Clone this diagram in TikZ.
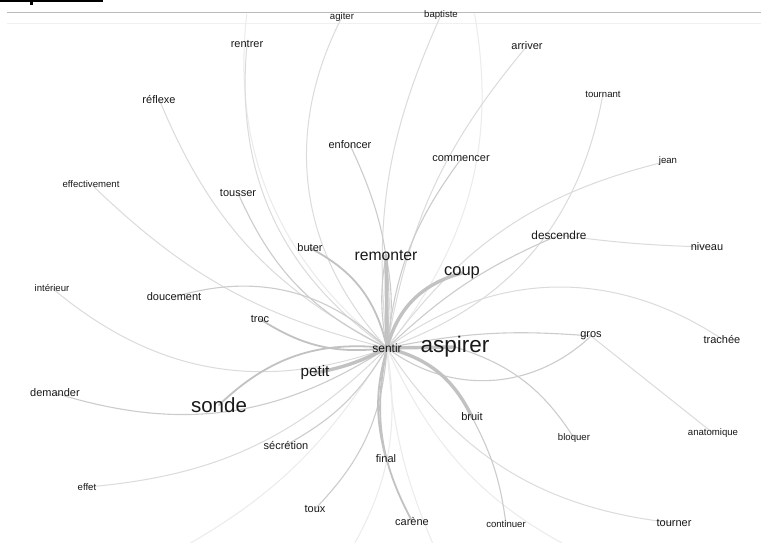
\documentclass[tikz,border=0pt]{standalone}
\usepackage{fontspec}
\setmainfont{Liberation Sans}
\usetikzlibrary{backgrounds}
\definecolor{txt}{gray}{0.1}
\definecolor{edgea}{gray}{0.76}
\definecolor{edgeb}{gray}{0.80}
\definecolor{edgec}{gray}{0.86}
\definecolor{edged}{gray}{0.92}
\tikzset{
  word/.style={inner sep=0pt, text=txt, font=\fontsize{11}{12}\selectfont},
  wsmall/.style={word, font=\fontsize{9.6}{11}\selectfont},
  wbig/.style={word, font=\fontsize{#1}{#1}\selectfont},
  ethick/.style={draw=edgea, line width=3.4pt, line cap=round},
  emed/.style={draw=edgea, line width=1.8pt, line cap=round},
  ethin/.style={draw=edgeb, line width=1.1pt, line cap=round},
  elight/.style={draw=edgec, line width=1pt, line cap=round},
  efaint/.style={draw=edged, line width=1pt, line cap=round},
}
\begin{document}
\begin{tikzpicture}[x=1pt,y=-1pt]
\useasboundingbox (0,0) rectangle (761,542);
% words
\node[word, font=\fontsize{12}{12}\selectfont] (sentir) at (387,348) {sentir};
\node[wbig=22.5] (aspirer) at (455,347) {aspirer};
\node[wbig=20.5] (sonde) at (219,405) {sonde};
\node[wbig=15.7] (remonter) at (386,255) {remonter};
\node[wbig=16.5] (coup) at (462,273) {coup};
\node[wbig=15.3] (petit) at (315,373) {petit};
\node[wsmall] (agiter) at (342,17) {agiter};
\node[wsmall] (baptiste) at (441,15) {baptiste};
\node[word] (rentrer) at (247,44) {rentrer};
\node[word] (arriver) at (527,46) {arriver};
\node[word] (reflexe) at (159,99) {réflexe};
\node[wsmall] (tournant) at (603,94) {tournant};
\node[word] (enfoncer) at (350,145) {enfoncer};
\node[word] (commencer) at (461,159) {commencer};
\node[wsmall] (jean) at (668,161) {jean};
\node[wsmall] (effectivement) at (91,184) {effectivement};
\node[word] (tousser) at (238,193) {tousser};
\node[word] (buter) at (310,248) {buter};
\node[wsmall] (interieur) at (52,288) {intérieur};
\node[word] (doucement) at (174,297) {doucement};
\node[word] (troc) at (260,319) {troc};
\node[word, font=\fontsize{11.8}{12}\selectfont] (descendre) at (559,235) {descendre};
\node[word] (niveau) at (707,247) {niveau};
\node[word] (trachee) at (722,339) {trachée};
\node[word] (gros) at (591,336) {gros};
\node[word] (demander) at (55,393) {demander};
\node[word] (secretion) at (286,445) {sécrétion};
\node[wsmall] (effet) at (87,487) {effet};
\node[word] (toux) at (315,509) {toux};
\node[word] (bruit) at (472,417) {bruit};
\node[wsmall] (bloquer) at (574,438) {bloquer};
\node[word] (final) at (386,459) {final};
\node[word] (carene) at (412,521) {carène};
\node[wsmall] (continuer) at (506,524) {continuer};
\node[wsmall] (anatomique) at (713,433) {anatomique};
\node[word] (tourner) at (674,523) {tourner};
% off-canvas ends
\coordinate (o1) at (345,560);
\coordinate (o2) at (440,560);
\coordinate (o3) at (595,560);
\coordinate (o4) at (160,560);
\coordinate (o5) at (250,-10);
\coordinate (o6) at (470,-10);
\begin{pgfonlayer}{background}
\fill[white] (0,0) rectangle (761,542);
% header remnants
\fill[black] (0,0) rectangle (103,2.2);
\fill[black] (29.5,2) rectangle (32.5,5);
\draw[gray!55, line width=1.3pt] (7,12.5) -- (761,12.5);
\draw[gray!12, line width=1pt] (7,23) -- (761,23);
\begin{scope}
\clip (0,14) rectangle (761,542);
% faint edges
\draw[efaint] (sentir.center) to[bend left=20] (o1);
\draw[efaint] (sentir.center) to[bend right=10] (o2);
\draw[efaint] (sentir.center) to[bend right=20] (o3);
\draw[efaint] (sentir.center) to[bend left=15] (o4);
\draw[efaint] (sentir.center) to[bend left=30] (o5);
\draw[efaint] (sentir.center) to[bend right=25] (o6);
% light edges
\draw[elight] (sentir.center) to[bend left=35] (agiter.center);
\draw[elight] (sentir.center) to[bend left=15] (baptiste.center);
\draw[elight] (sentir.center) to[bend left=30] (rentrer.center);
\draw[elight] (sentir.center) to[bend left=15] (arriver.center);
\draw[elight] (sentir.center) to[bend left=20] (reflexe.center);
\draw[elight] (sentir.center) to[bend right=30] (tournant.center);
\draw[elight] (sentir.center) to[bend left=20] (jean.center);
\draw[elight] (sentir.center) to[bend left=15] (effectivement.center);
\draw[elight] (sentir.center) to[bend left=30] (interieur.center);
\draw[elight] (sentir.center) to[bend left=20] (effet.center);
\draw[elight] (sentir.center) to[bend left=35] (trachee.center);
\draw[elight] (sentir.center) to[bend right=25] (tourner.center);
\draw[elight] (descendre.center) to[bend right=3] (niveau.center);
\draw[elight] (gros.center) to (anatomique.center);
% thin edges
\draw[ethin] (sentir.center) to[bend left=20] (tousser.center);
\draw[ethin] (sentir.center) to[bend right=30] (doucement.center);
\draw[ethin] (sentir.center) to[bend right=15] (enfoncer.center);
\draw[ethin] (sentir.center) to[bend left=15] (commencer.center);
\draw[ethin] (sentir.center) to[bend left=10] (descendre.center);
\draw[ethin] (sentir.center) to[bend left=8] (gros.center);
\draw[ethin] (sentir.center) to[bend right=40] (gros.center);
\draw[ethin] (sentir.center) to[bend left=25] (demander.center);
\draw[ethin] (sentir.center) to[bend left=15] (secretion.center);
\draw[ethin] (sentir.center) to[bend left=20] (toux.center);
\draw[ethin] (aspirer.center) to[bend left=20] (bloquer.center);
\draw[ethin] (bruit.center) to[bend left=10] (continuer.center);
\draw[ethin] (sentir.center) to[bend left=10] (remonter.center);
\draw[ethin] (sentir.center) to[bend right=10] (remonter.center);
% medium edges
\draw[emed] (sentir.center) to[bend right=25] (buter.center);
\draw[emed] (sentir.center) to[bend left=20] (troc.center);
\draw[emed] (sentir.center) to[bend right=15] (final.center);
\draw[emed] (sentir.center) to[bend right=20] (carene.center);
\draw[emed] (sentir.center) to[bend right=25] (sonde.center);
% thick edges
\draw[ethick] (sentir.center) to (remonter.center);
\draw[ethick] (sentir.center) to[bend left=30] (coup.center);
\draw[ethick] (sentir.center) to (aspirer.center);
\draw[ethick] (sentir.center) to[bend left=8] (petit.center);
\draw[ethick] (sentir.center) to[bend left=25] (bruit.center);
\end{scope}
\end{pgfonlayer}
\end{tikzpicture}
\end{document}
